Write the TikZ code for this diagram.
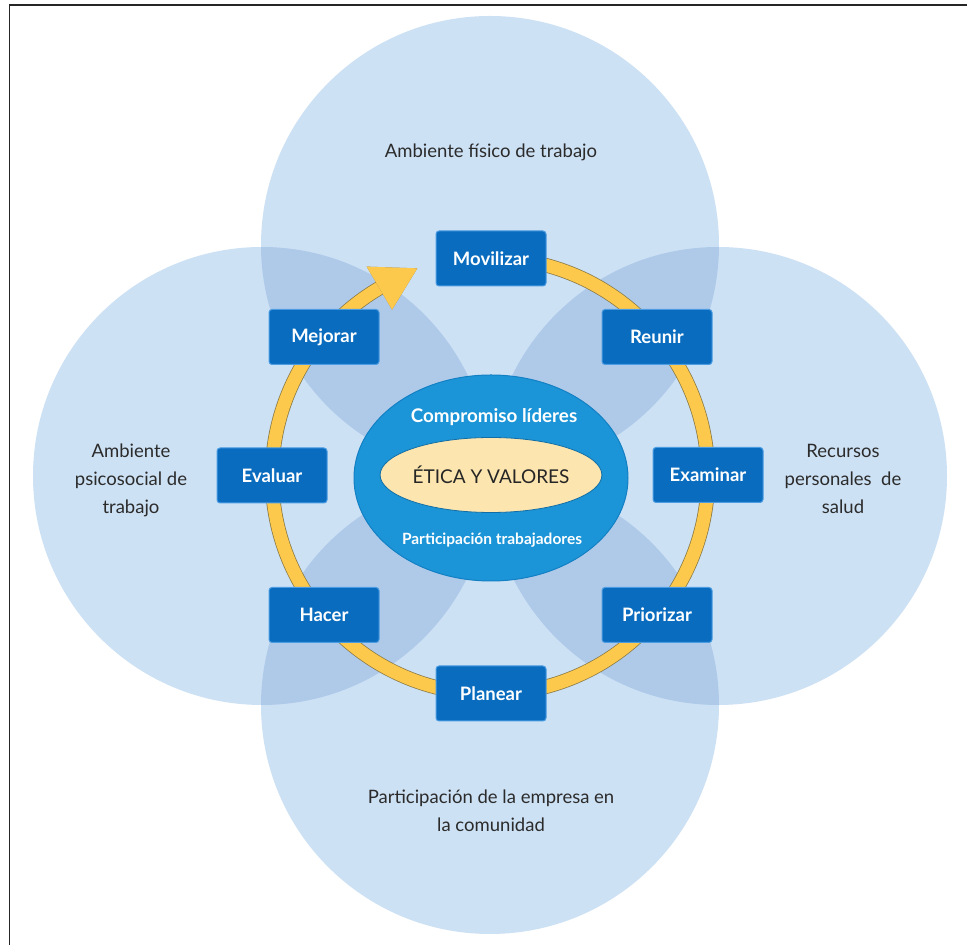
\documentclass[tikz,border=0pt]{standalone}
\usepackage{fontspec}
\setmainfont{Lato}
\usetikzlibrary{calc,shapes.geometric}
\definecolor{circ}{HTML}{CDE1F4}
\definecolor{lens}{HTML}{AFCAE9}
\definecolor{boxfill}{HTML}{0A6CBE}
\definecolor{boxline}{HTML}{4B9CE2}
\definecolor{ringcol}{HTML}{FDC94C}
\definecolor{ringdark}{HTML}{8A7A45}
\definecolor{ellblue}{HTML}{1B95D7}
\definecolor{ellline}{HTML}{1380C4}
\definecolor{cream}{HTML}{FCE5AE}
\definecolor{labeltext}{HTML}{2B2B2B}
\begin{document}
\begin{tikzpicture}[x=1pt,y=1pt,
  stepbox/.style={draw=boxline, line width=1pt, fill=boxfill, rounded corners=3pt,
    minimum width=110pt, minimum height=55pt, inner sep=0pt, text=white,
    font=\fontsize{18.5}{18.5}\selectfont\bfseries},
  circlabel/.style={align=center, text=labeltext, inner sep=0pt,
    font=\fontsize{18.5}{28}\selectfont},
  bigcirc/.style={fill=circ},
  lensfill/.style={fill=lens}
]
\useasboundingbox (0,0) rectangle (967,945);
\fill[white] (0,0) rectangle (967,945);
% frame (top and left)
\draw[line width=1.5pt, black!85] (9.5,0) -- (9.5,940) -- (967,940);
% four circles
\coordinate (T) at (490,700);
\coordinate (B) at (490,240);
\coordinate (L) at (262,469);
\coordinate (R) at (718,469);
\fill[bigcirc] (T) circle (229);
\fill[bigcirc] (B) circle (229);
\fill[bigcirc] (L) circle (229);
\fill[bigcirc] (R) circle (229);
\begin{scope}
  \clip (T) circle (229);
  \fill[lensfill] (L) circle (229);
  \fill[lensfill] (R) circle (229);
\end{scope}
\begin{scope}
  \clip (B) circle (229);
  \fill[lensfill] (L) circle (229);
  \fill[lensfill] (R) circle (229);
\end{scope}
% circle labels
\node[circlabel] (lt) at (491,793) {Ambiente físico de trabajo};
\node[circlabel] (ll) at (131,465) {Ambiente\\psicosocial de\\trabajo};
\node[circlabel] (lr) at (843,466) {Recursos\\personales\ \ de\\salud};
\node[circlabel] (lb) at (491,134) {Participación de la empresa en\\la comunidad};
% ring with arrow
\coordinate (C) at (490,469);
\draw[ringdark, line width=14.5pt, shift={(-0.8,0.8)}] ($(C)+(90:218)$) arc[start angle=90, end angle=-241, radius=218];
\draw[ringcol, line width=13pt] ($(C)+(90:218)$) arc[start angle=90, end angle=-241, radius=218];
\fill[ringdark, shift={(-0.8,0.8)}] ($(C)+(109.3:220)$) -- ($(C)+(120.5:243)$) -- ($(C)+(120.5:193)$) -- cycle;
\fill[ringcol] ($(C)+(109.3:220)$) -- ($(C)+(120.5:243)$) -- ($(C)+(120.5:193)$) -- cycle;
% central ellipses
\node[ellipse, draw=ellline, line width=1pt, fill=ellblue, minimum width=274pt, minimum height=206pt, inner sep=0pt] (oe) at (491,467) {};
\node[ellipse, draw=ellline!85!black, line width=0.8pt, fill=cream, minimum width=186pt, minimum height=75pt, inner sep=0pt,
  font=\fontsize{19}{19}\selectfont, text=black!85] (ie) at (491,470) {ÉTICA Y VALORES};
\node[text=white, font=\fontsize{18.8}{18.8}\selectfont\bfseries] (cl) at (494,528) {Compromiso líderes};
\node[text=white, font=\fontsize{15.5}{15.5}\selectfont\bfseries] (pt) at (492,405) {Participación trabajadores};
% step boxes
\node[stepbox] (mov) at (491,686.5) {Movilizar};
\node[stepbox] (reu) at (657,608) {Reunir};
\node[stepbox] (exa) at (708,470) {Examinar};
\node[stepbox] (pri) at (657,330) {Priorizar};
\node[stepbox] (pla) at (491,251.5) {Planear};
\node[stepbox] (hac) at (324,330) {Hacer};
\node[stepbox] (eva) at (272,469.5) {Evaluar};
\node[stepbox] (mej) at (324,608) {Mejorar};
\end{tikzpicture}
\end{document}
